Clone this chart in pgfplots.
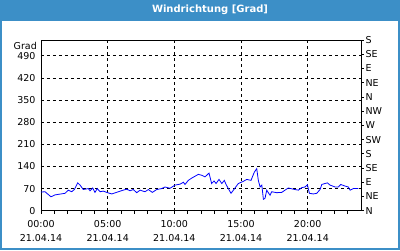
\documentclass[border=0pt]{standalone}
\usepackage{pgfplots}
\pgfplotsset{compat=1.18}
\usepackage{fontspec}
\setmainfont{DejaVu Sans}
\definecolor{barblue}{RGB}{60,143,199}
\begin{document}
\begin{tikzpicture}[x=1pt,y=1pt]
\useasboundingbox (0,0) rectangle (400,250);
\fill[white] (0,0) rectangle (400,250);
\fill[barblue] (0,229.5) rectangle (400,250);
\draw[barblue, line width=2pt] (1,1) rectangle (399,249);
\node[white, font=\bfseries\fontsize{10}{12}\selectfont] at (210,240) {Windrichtung [Grad]};
\node[anchor=east, font=\fontsize{9.5}{11}\selectfont, inner sep=0pt] at (37,204) {Grad};
\begin{axis}[
  at={(41pt,39.3pt)}, anchor=south west, scale only axis,
  width=320pt, height=170.7pt,
  xmin=0, xmax=24, ymin=0, ymax=540,
  xtick={0,5,10,15,20},
  xticklabels={{00:00\\21.04.14},{05:00\\21.04.14},{10:00\\21.04.14},{15:00\\21.04.14},{20:00\\21.04.14}},
  minor xtick={1,2,3,4,6,7,8,9,11,12,13,14,16,17,18,19,21,22,23},
  ytick={0,70,140,210,280,350,420,490},
  xtick pos=bottom, ytick pos=left,
  tick align=outside,
  major tick length=3pt, minor tick length=3pt,
  ytick style={draw=none},
  xtick style={black, line width=0.8pt},
  minor tick style={black, line width=0.8pt},
  xmajorgrids, ymajorgrids,
  major grid style={black, line width=0.8pt, dash pattern=on 3pt off 3pt},
  axis line style={black, line width=0.8pt},
  tick label style={font=\fontsize{9.5}{14}\selectfont},
  xticklabel style={align=center, yshift=-3pt},
  yticklabel style={xshift=1pt},
  /pgf/number format/assume math mode=true,
  /pgf/number format/1000 sep={},
]
\addplot[blue, line width=0.8pt] coordinates {
(0,59) (0.3,60) (0.75,44) (1.05,50) (1.8,55) (2.05,65) (2.3,60) (2.5,67)
(2.75,88) (2.93,81) (3.17,67) (3.55,70) (3.68,63) (3.88,72) (4.05,58) (4.22,70)
(4.43,60) (4.67,62) (4.93,58) (5.3,53) (5.8,60) (6.17,65) (6.43,68) (6.68,63)
(6.92,67) (7.18,57) (7.43,65) (7.8,60) (8.05,67) (8.35,58) (8.68,67) (9.05,70)
(9.3,75) (9.68,71) (10.05,81) (10.43,84) (10.68,90) (10.8,83) (11.05,96) (11.3,103)
(11.55,109) (11.8,115) (12.06,112) (12.3,107) (12.6,119) (12.8,86) (12.98,94) (13.13,86)
(13.35,99) (13.56,86) (13.75,96) (13.88,83) (14.05,70) (14.25,55) (14.43,65) (14.8,86)
(15.18,93) (15.43,99) (15.75,96) (16.0,122) (16.18,133) (16.3,96) (16.43,75) (16.56,81)
(16.68,36) (16.8,39) (16.93,65) (17.05,57) (17.18,49) (17.3,60) (17.68,57) (18.06,58)
(18.3,65) (18.55,72) (18.93,68) (19.3,65) (19.56,73) (19.8,75) (19.98,82) (20.13,55)
(20.43,53) (20.68,55) (20.93,67) (21.06,83) (21.3,86) (21.48,88) (21.68,81) (22.06,75)
(22.3,75) (22.48,83) (22.8,78) (23.05,75) (23.18,65) (23.43,70) (23.8,70)
};
\end{axis}
\begin{axis}[
  at={(41pt,39.3pt)}, anchor=south west, scale only axis,
  width=320pt, height=170.7pt,
  xmin=0, xmax=24, ymin=0, ymax=540,
  axis x line=none, axis y line*=right,
  ytick={0,45,90,135,180,225,270,315,360,405,450,495,540},
  yticklabels={N,NE,E,SE,S,SW,W,NW,N,NE,E,SE,S},
  tick align=outside, major tick length=3pt,
  ytick style={black, line width=0.8pt},
  axis line style={black, line width=0.8pt},
  tick label style={font=\fontsize{9.5}{11}\selectfont},
  yticklabel style={xshift=-2pt},
]
\addplot[draw=none] coordinates {(0,0)};
\end{axis}
\end{tikzpicture}
\end{document}
